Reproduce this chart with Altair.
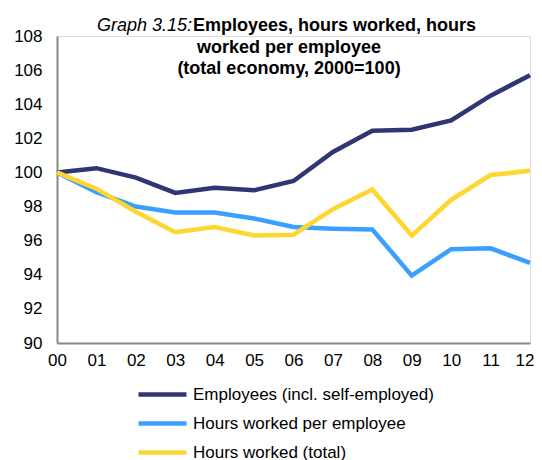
import altair as alt
import pandas as pd

years = ["00", "01", "02", "03", "04", "05", "06", "07", "08", "09", "10", "11", "12"]
employees = [100.0, 100.25, 99.7, 98.8, 99.1, 98.95, 99.5, 101.2, 102.45, 102.5, 103.05, 104.5, 105.7]
hours_per_emp = [100.0, 98.85, 98.0, 97.65, 97.65, 97.3, 96.8, 96.7, 96.65, 93.95, 95.5, 95.55, 94.7]
hours_total = [100.0, 99.05, 97.7, 96.5, 96.8, 96.3, 96.35, 97.85, 99.0, 96.3, 98.4, 99.85, 100.1]

series_names = ["Employees (incl. self-employed)", "Hours worked per employee", "Hours worked (total)"]
series_colors = ["#2f3673", "#3aa0ff", "#ffd530"]

title_italic = "Graph 3.15:"
title_bold = ["Employees, hours worked, hours", "worked per employee", "(total economy, 2000=100)"]

rows = []
for k, (name, vals) in enumerate(zip(series_names, [employees, hours_per_emp, hours_total])):
    for y, v in zip(years, vals):
        rows.append({"year": y, "value": v, "series": name, "order": k})
df = pd.DataFrame(rows)

FONT = "Liberation Sans"
W, H = 473, 307
TS = 18

last_label = "datum.value == '12'"

lines = alt.Chart(df).mark_line(strokeWidth=4.5, clip=False).encode(
    x=alt.X("year:O", scale=alt.Scale(type="point", padding=0, domain=years),
            axis=alt.Axis(title=None, labelAngle=0, ticks=False, labelPadding=9, labelFontSize=17,
                          labelAlign={"condition": {"test": last_label, "value": "right"}, "value": "center"},
                          labelOffset={"condition": {"test": last_label, "value": 4}, "value": 0},
                          domainColor="#888888", domainWidth=2, grid=False)),
    y=alt.Y("value:Q", scale=alt.Scale(domain=[90, 108], nice=False, zero=False),
            axis=alt.Axis(title=None, values=list(range(90, 109, 2)), ticks=False, labelPadding=15,
                          labelFontSize=17, domainColor="#888888", domainWidth=2, grid=False)),
    color=alt.Color("series:N", scale=alt.Scale(domain=series_names, range=series_colors),
                    legend=alt.Legend(title=None, orient="none", legendX=97, legendY=350, padding=0,
                                      symbolType="M-4,0L4,0", symbolSize=144, symbolStrokeWidth=4.5,
                                      labelFontSize=17, labelOffset=22, rowPadding=10,
                                      labelFont=FONT, labelColor="#000000", labelLimit=400)),
    order=alt.Order("order:Q"),
)

t_italic = alt.Chart(pd.DataFrame({"t": [title_italic]})).mark_text(
    font=FONT, fontSize=TS, fontStyle="italic", align="right", baseline="alphabetic", color="#000000"
).encode(text="t:N", x=alt.value(135), y=alt.value(-5))
t_b0 = alt.Chart(pd.DataFrame({"t": [title_bold[0]]})).mark_text(
    font=FONT, fontSize=TS, fontWeight="bold", align="left", baseline="alphabetic", color="#000000"
).encode(text="t:N", x=alt.value(136), y=alt.value(-5))
t_b1 = alt.Chart(pd.DataFrame({"t": [title_bold[1]]})).mark_text(
    font=FONT, fontSize=TS, fontWeight="bold", align="center", baseline="alphabetic", color="#000000"
).encode(text="t:N", x=alt.value(232), y=alt.value(16.5))
t_b2 = alt.Chart(pd.DataFrame({"t": [title_bold[2]]})).mark_text(
    font=FONT, fontSize=TS, fontWeight="bold", align="center", baseline="alphabetic", color="#000000"
).encode(text="t:N", x=alt.value(232), y=alt.value(37.5))

chart = alt.layer(lines, t_italic, t_b0, t_b1, t_b2).properties(
    width=W, height=H,
    autosize=alt.AutoSizeParams(type="none"),
    padding={"left": 49, "top": 28, "right": 4, "bottom": 118},
).configure_view(stroke=None).configure_axis(
    labelFont=FONT, labelColor="#000000"
).configure(background="white")

chart.save("out.html", embed_options={"renderer": "svg", "actions": False})
